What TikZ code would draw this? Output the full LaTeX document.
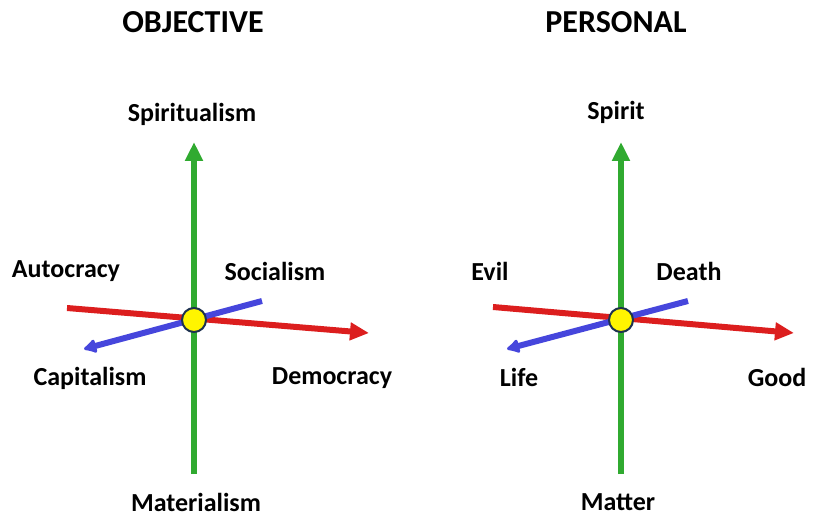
\documentclass[tikz,border=0pt]{standalone}
\usepackage{fontspec}
\setmainfont{Carlito}
\usetikzlibrary{arrows.meta}
\definecolor{axgreen}{RGB}{48,170,48}
\definecolor{axred}{RGB}{220,30,30}
\definecolor{axblue}{RGB}{70,70,220}
\definecolor{dotyellow}{RGB}{255,245,0}
\definecolor{dotedge}{RGB}{30,50,80}
\tikzset{
  ttl/.style={font=\bfseries\fontsize{32}{36}\selectfont, inner sep=0pt},
  lbl/.style={font=\bfseries\fontsize{26}{30}\selectfont, inner sep=0pt},
  axis/.style={line width=6pt, -{Triangle[length=19pt,width=17pt]}},
  center/.style={circle, draw=dotedge, line width=2pt, fill=dotyellow, minimum size=24pt, inner sep=0pt},
}
\begin{document}
\begin{tikzpicture}[x=1pt,y=-1pt]
\useasboundingbox (0,0) rectangle (815,516);
% ---- left panel ----
\node[ttl] (t1) at (193,22) {OBJECTIVE};
\coordinate (g1b) at (194,474);
\coordinate (g1t) at (194,142);
\coordinate (r1a) at (67,308);
\coordinate (r1b) at (369,333);
\coordinate (b1a) at (262,301);
\coordinate (b1b) at (84,349);
\draw[axis, axgreen] (g1b) -- (g1t);
\draw[axis, axred] (r1a) -- (r1b);
\draw[axis, axblue, -{Latex[length=15pt,width=17pt,round]}] (b1a) -- (b1b);
\node[center] (c1) at (194,320) {};
\node[lbl] (s1) at (192,114) {Spiritualism};
\node[lbl] (a1) at (66,271) {Autocracy};
\node[lbl] (so1) at (275,271) {Socialism};
\node[lbl] (ca1) at (90,378) {Capitalism};
\node[lbl] (d1) at (332,378) {Democracy};
\node[lbl] (m1) at (196,502) {Materialism};
% ---- right panel ----
\node[ttl] (t2) at (616,22) {PERSONAL};
\coordinate (g2b) at (621,474);
\coordinate (g2t) at (621,142);
\coordinate (r2a) at (493,307);
\coordinate (r2b) at (794,333);
\coordinate (b2a) at (688,301);
\coordinate (b2b) at (507,349);
\draw[axis, axgreen] (g2b) -- (g2t);
\draw[axis, axred] (r2a) -- (r2b);
\draw[axis, axblue, -{Latex[length=15pt,width=17pt,round]}] (b2a) -- (b2b);
\node[center] (c2) at (621,320) {};
\node[lbl] (s2) at (616,112) {Spirit};
\node[lbl] (e2) at (490,271) {Evil};
\node[lbl] (de2) at (689,271) {Death};
\node[lbl] (l2) at (519,377) {Life};
\node[lbl] (go2) at (777,377) {Good};
\node[lbl] (m2) at (618,502) {Matter};
\end{tikzpicture}
\end{document}
